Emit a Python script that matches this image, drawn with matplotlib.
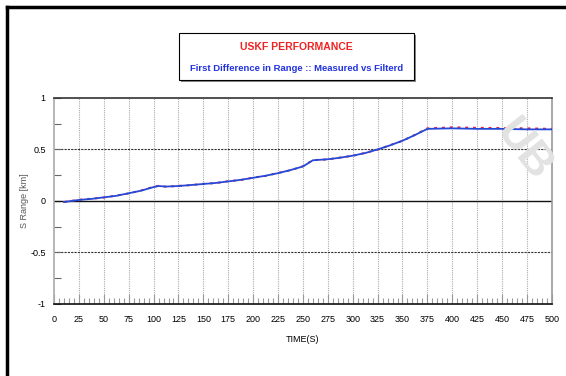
import matplotlib.pyplot as plt
import numpy as np
from matplotlib.lines import Line2D
from matplotlib.patches import Rectangle

plt.rcParams['font.family'] = ['Liberation Sans Narrow', 'Liberation Sans', 'DejaVu Sans']

# first difference in range (km) over time (s)
time_s = [10, 25, 37.5, 50, 62.5, 75, 87.5, 100, 105, 112.5, 125, 137.5, 150, 162.5,
          175, 187.5, 200, 212.5, 225, 237.5, 250, 260, 275, 287.5, 300, 312.5,
          325, 337.5, 350, 362.5, 375, 400, 425, 450, 475, 500]
filtered = [-0.01, 0.01, 0.02, 0.035, 0.05, 0.075, 0.10, 0.135, 0.145, 0.14, 0.145,
            0.155, 0.165, 0.175, 0.19, 0.205, 0.225, 0.245, 0.27, 0.30, 0.335, 0.395,
            0.405, 0.42, 0.44, 0.465, 0.50, 0.54, 0.585, 0.64, 0.70, 0.705, 0.70,
            0.70, 0.695, 0.695]
measured = [-0.01, 0.012, 0.022, 0.033, 0.052, 0.073, 0.102, 0.138, 0.147, 0.138, 0.147,
            0.153, 0.167, 0.173, 0.192, 0.203, 0.227, 0.243, 0.272, 0.298, 0.337, 0.397,
            0.403, 0.422, 0.438, 0.467, 0.498, 0.542, 0.583, 0.642, 0.705, 0.715, 0.71,
            0.708, 0.705, 0.70]

fig = plt.figure(figsize=(5.66, 3.76), dpi=100)
ax = fig.add_axes([0.0954, 0.1915, 0.8796, 0.548])

ax.plot(time_s, measured, color='#e8203a', lw=1.4, ls=(0, (1.5, 2.5)), zorder=3)
ax.plot(time_s, filtered, color='#2448d8', lw=1.3, zorder=4)

ax.set_xlim(0, 500)
ax.set_ylim(-1, 1)
ax.set_xticks(np.arange(0, 501, 25))
ax.set_xticks(np.arange(0, 501, 5), minor=True)
ax.set_yticks([-1, -0.5, 0, 0.5, 1])
ax.set_yticks([-0.75, -0.25, 0.25, 0.75], minor=True)
ax.set_yticklabels(['-1', '-0.5', '0', '0.5', '1'])

ax.tick_params(axis='x', which='major', direction='in', length=7, width=0.8,
               color='#999999', labelsize=6.5, pad=8)
ax.tick_params(axis='x', which='minor', direction='in', length=4, width=0.8,
               color='#999999')
ax.tick_params(axis='y', which='both', direction='in', length=5, width=0.8,
               color='#666666', labelsize=6.5, pad=6)

for side, col, lw in [('top', '#333333', 1.2), ('bottom', '#111111', 1.2),
                      ('left', '#aaaaaa', 1.2), ('right', '#999999', 1.2)]:
    ax.spines[side].set_color(col)
    ax.spines[side].set_linewidth(lw)

for xv in np.arange(25, 500, 25):
    ax.axvline(xv, color='#aaaaaa', lw=0.8, ls=(0, (1, 1)), zorder=1)
for yv in (0.5, -0.5):
    ax.axhline(yv, color='#333333', lw=0.8, ls=(0, (2, 1)), zorder=1)
ax.axhline(0, color='#111111', lw=1.0, zorder=2)

ax.set_xlabel('TIME(S)', fontsize=6.5, labelpad=8)
ax.set_ylabel('S Range [km]', fontsize=6.5, color='#555555', labelpad=1)

# title box with shadow
fig.patches.append(Rectangle((0.320, 0.782), 0.415, 0.126, transform=fig.transFigure,
                             facecolor='#888888', edgecolor='none', zorder=1))
fig.patches.append(Rectangle((0.316, 0.787), 0.415, 0.126, transform=fig.transFigure,
                             facecolor='white', edgecolor='black', lw=0.8, zorder=2))
fig.text(0.5235, 0.875, 'USKF PERFORMANCE', color='#ee2222', fontsize=7.5,
         fontweight='bold', ha='center', va='center')
fig.text(0.5235, 0.819, 'First Difference in Range :: Measured vs Filterd',
         color='#2233dd', fontsize=6.8, fontweight='bold', ha='center', va='center')

# page frame
fig.add_artist(Line2D([0.012, 1.0], [0.982, 0.982], color='black', lw=2.5))
fig.add_artist(Line2D([0.013, 0.013], [0.0, 0.982], color='black', lw=2.5))

# faint diagonal watermark
fig.text(0.925, 0.60, 'UB', color='#e2e2e2', fontsize=32, fontweight='bold',
         rotation=-52, ha='center', va='center', zorder=0)

fig.savefig('out.png', dpi=100)
